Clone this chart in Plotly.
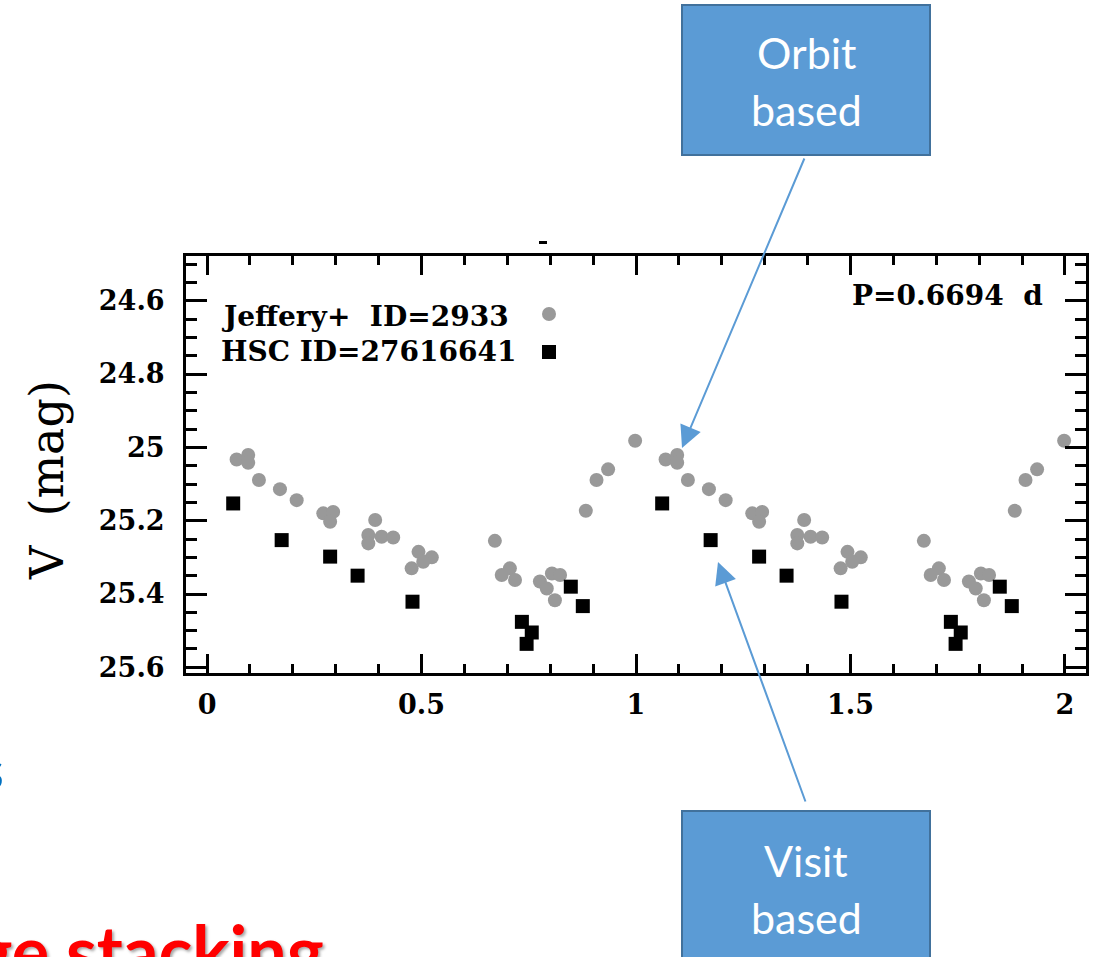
import plotly.graph_objects as go

# Phased light curve of a variable star (P = 0.6694 d); phases in [0, 1)
jeffery_phase = [0.069, 0.096, 0.096, 0.121, 0.170, 0.209, 0.271, 0.294, 0.287,
                 0.392, 0.376, 0.376, 0.407, 0.434, 0.493, 0.524, 0.477, 0.504,
                 0.671, 0.687, 0.706, 0.718, 0.776, 0.804, 0.823, 0.792, 0.811,
                 0.883, 0.908, 0.935, 0.998]
jeffery_mag = [25.033, 25.021, 25.042, 25.089, 25.114, 25.144, 25.180, 25.176, 25.203,
               25.198, 25.239, 25.262, 25.244, 25.246, 25.285, 25.300, 25.330, 25.312,
               25.255, 25.348, 25.330, 25.362, 25.366, 25.344, 25.348, 25.385, 25.417,
               25.173, 25.089, 25.060, 24.982]

hsc_phase = [0.061, 0.174, 0.287, 0.351, 0.479, 0.734, 0.757, 0.745, 0.848, 0.876]
hsc_mag = [25.153, 25.253, 25.298, 25.350, 25.421, 25.476, 25.505, 25.536, 25.380, 25.433]

x_tickvals = [0, 0.5, 1, 1.5, 2]
x_ticktext = ["0", "0.5", "1", "1.5", "2"]
y_tickvals = [24.6, 24.8, 25.0, 25.2, 25.4, 25.6]
y_ticktext = ["24.6", "24.8", "25", "25.2", "25.4", "25.6"]

legend_labels = ["Jeffery+\u00a0\u00a0ID=2933", "HSC ID=27616641"]
period_label = "P=0.6694\u00a0\u00a0d"
y_title = "V\u00a0\u00a0(mag)"

GRAY = "#999999"
BLUE = "#5B9BD5"
BLUE_EDGE = "#41719C"

W, H = 1104, 957
ML, MR, MT, MB = 186, 18, 256, 284
PW, PH = W - ML - MR, H - MT - MB


def px(x):
    return (x - ML) / PW


def py(y):
    return (H - MB - y) / PH


# two cycles: each phase drawn at phi and phi + 1
def two_cycles(ph, mag):
    return ph + [p + 1 for p in ph], mag + mag


jx, jy = two_cycles(jeffery_phase, jeffery_mag)
hx, hy = two_cycles(hsc_phase, hsc_mag)

fig = go.Figure()
fig.add_trace(go.Scatter(x=jx, y=jy, mode="markers", name=legend_labels[0],
                         marker=dict(symbol="circle", size=14, color=GRAY,
                                     line=dict(width=0))))
fig.add_trace(go.Scatter(x=hx, y=hy, mode="markers", name=legend_labels[1],
                         marker=dict(symbol="square", size=14, color="black",
                                     line=dict(width=0))))

tick_font = dict(family="DejaVu Serif", size=27, color="black", weight="bold")

fig.update_xaxes(
    range=[-0.049, 2.049], showgrid=False, zeroline=False,
    showline=True, linewidth=3, linecolor="black", mirror="allticks",
    tickmode="array", tickvals=x_tickvals, ticktext=x_ticktext,
    ticks="inside", ticklen=19, tickwidth=3, tickcolor="black",
    tickfont=tick_font, ticklabelstandoff=6,
    minor=dict(tickmode="linear", tick0=0, dtick=0.1, ticks="inside",
               ticklen=9, tickwidth=2.5, tickcolor="black"),
)
fig.update_yaxes(
    range=[25.6155, 24.478], showgrid=False, zeroline=False,
    showline=True, linewidth=3, linecolor="black", mirror="allticks",
    tickmode="array", tickvals=y_tickvals, ticktext=y_ticktext,
    ticks="inside", ticklen=21, tickwidth=3, tickcolor="black",
    tickfont=tick_font, ticklabelstandoff=13,
    minor=dict(tickmode="linear", tick0=24.6, dtick=0.05, ticks="inside",
               ticklen=11, tickwidth=2.5, tickcolor="black"),
)

serif_bold = dict(family="DejaVu Serif", size=28, color="black", weight="bold")
box_font = dict(family="Lato", size=43, color="white")

annotations = [
    dict(x=px(47), y=py(480), text=y_title, textangle=-90, xanchor="center",
         yanchor="middle", font=dict(family="DejaVu Serif", size=46, color="black")),
    dict(x=px(219), y=py(316), text=legend_labels[0], xanchor="left", yanchor="middle",
         font=serif_bold),
    dict(x=px(219), y=py(351), text=legend_labels[1], xanchor="left", yanchor="middle",
         font=serif_bold),
    dict(x=px(850), y=py(295), text=period_label, xanchor="left", yanchor="middle",
         font=serif_bold),
    # callout boxes
    dict(x=px(806), y=py(53), text="Orbit", xanchor="center", yanchor="middle", font=box_font),
    dict(x=px(806), y=py(110), text="based", xanchor="center", yanchor="middle", font=box_font),
    dict(x=px(806), y=py(860), text="Visit", xanchor="center", yanchor="middle", font=box_font),
    dict(x=px(806), y=py(917), text="based", xanchor="center", yanchor="middle", font=box_font),
    # callout arrows
    dict(x=px(682), y=py(448), ax=123, ay=-291, text="", showarrow=True,
         arrowhead=2, arrowsize=2.2, arrowwidth=2, arrowcolor=BLUE),
    dict(x=px(718), y=py(562), ax=88, ay=241, text="", showarrow=True,
         arrowhead=2, arrowsize=2.2, arrowwidth=2, arrowcolor=BLUE),
    # slide text running off the page edges
    dict(x=px(6), y=py(768), text="s", xanchor="right", yanchor="middle",
         font=dict(family="Lato", size=56, color="#0070C0", weight="bold")),
    dict(x=px(326), y=py(950), text="Image stacking", xanchor="right", yanchor="middle",
         font=dict(family="Lato", size=70, color="#FF0000", weight="bold",
                   shadow="2px 2px 3px rgba(0,0,0,0.35)")),
]
for a in annotations:
    a.setdefault("xref", "paper")
    a.setdefault("yref", "paper")
    a.setdefault("showarrow", False)

shapes = [
    # legend symbols
    dict(type="circle", xref="paper", yref="paper", xsizemode="pixel", ysizemode="pixel",
         xanchor=px(549), yanchor=py(314), x0=-7, x1=7, y0=-7, y1=7,
         fillcolor=GRAY, line=dict(width=0)),
    dict(type="rect", xref="paper", yref="paper", xsizemode="pixel", ysizemode="pixel",
         xanchor=px(549), yanchor=py(352), x0=-7, x1=7, y0=-7, y1=7,
         fillcolor="black", line=dict(width=0)),
    # small mark above the frame
    dict(type="line", xref="paper", yref="paper", x0=px(539), x1=px(547),
         y0=py(242.5), y1=py(242.5), line=dict(color="black", width=3)),
    # callout boxes
    dict(type="rect", xref="paper", yref="paper", x0=px(682), x1=px(930),
         y0=py(155), y1=py(5), fillcolor=BLUE, line=dict(color=BLUE_EDGE, width=2),
         layer="below"),
    dict(type="rect", xref="paper", yref="paper", x0=px(682), x1=px(930),
         y0=py(965), y1=py(811), fillcolor=BLUE, line=dict(color=BLUE_EDGE, width=2),
         layer="below"),
]

fig.update_layout(
    width=W, height=H, autosize=False,
    margin=dict(l=ML, r=MR, t=MT, b=MB, pad=0),
    paper_bgcolor="white", plot_bgcolor="white",
    showlegend=False,
    annotations=annotations, shapes=shapes,
)

fig.write_html("out.html")
